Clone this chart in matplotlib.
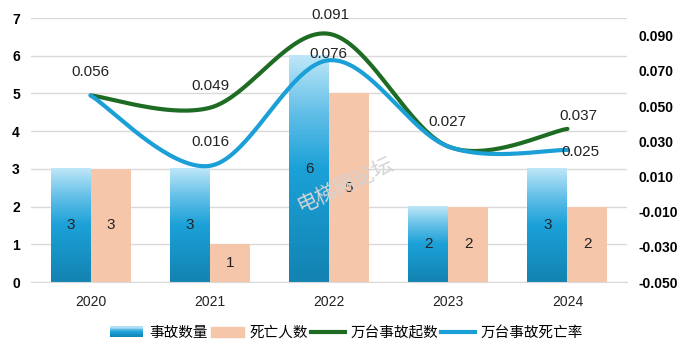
import numpy as np
import matplotlib
matplotlib.use("Agg")
import matplotlib.pyplot as plt
from matplotlib.colors import LinearSegmentedColormap
from matplotlib.patches import Rectangle
from matplotlib.lines import Line2D
from matplotlib.legend_handler import HandlerBase

plt.rcParams['font.family'] = ['Liberation Sans', 'Noto Sans CJK SC', 'DejaVu Sans']

# data
years = ['2020', '2021', '2022', '2023', '2024']
accidents = [3, 3, 6, 2, 3]          # 事故数量
deaths = [3, 1, 5, 2, 2]             # 死亡人数
acc_rate = [0.056, 0.049, 0.091, 0.027, 0.037]    # 万台事故起数
death_rate = [0.056, 0.016, 0.076, 0.027, 0.025]  # 万台事故死亡率

BLUE = '#1a9fd6'
GREEN = '#1e6b23'
SALMON = '#f5c6aa'
grad = LinearSegmentedColormap.from_list(
    'g', [(0, '#1383b2'), (0.5, '#1ba1d8'), (0.75, '#62bfe7'), (1, '#bde6f8')])


def smooth(x, y, n=40):
    # Excel style smoothed line (bezier through points)
    x = np.asarray(x, float)
    y = np.asarray(y, float)
    px = np.concatenate([[x[0]], x, [x[-1]]])
    py = np.concatenate([[y[0]], y, [y[-1]]])
    xs, ys = [], []
    t = np.linspace(0, 1, n)
    for i in range(len(x) - 1):
        p0 = np.array([x[i], y[i]])
        p3 = np.array([x[i + 1], y[i + 1]])
        p1 = p0 + (np.array([px[i + 2], py[i + 2]]) - np.array([px[i], py[i]])) / 6
        p2 = p3 - (np.array([px[i + 3], py[i + 3]]) - np.array([px[i + 1], py[i + 1]])) / 6
        b = ((1 - t) ** 3)[:, None] * p0 + (3 * (1 - t) ** 2 * t)[:, None] * p1 \
            + (3 * (1 - t) * t ** 2)[:, None] * p2 + (t ** 3)[:, None] * p3
        xs.append(b[:, 0])
        ys.append(b[:, 1])
    return np.concatenate(xs), np.concatenate(ys)


class GradHandler(HandlerBase):
    def create_artists(self, legend, orig, xd, yd, w, h, fs, trans):
        arts = []
        n = 12
        for k in range(n):
            c = grad((k + 0.5) / n)
            arts.append(Rectangle((xd, yd + h * k / n), w, h / n + 0.3,
                                  facecolor=c, edgecolor='none', transform=trans))
        return arts


fig = plt.figure(figsize=(6.93, 3.6), dpi=100)
ax = fig.add_axes([31 / 693, 78 / 360, 596 / 693, 264 / 360])
ax2 = ax.twinx()

x = np.arange(len(years))
w = 0.335
bars = ax.bar(x - w / 2, accidents, w, color='none', edgecolor='none', zorder=2)
for r in bars:
    ax.imshow(np.linspace(0, 1, 100)[:, None], cmap=grad, origin='lower',
              extent=[r.get_x(), r.get_x() + r.get_width(), 0, r.get_height()],
              aspect='auto', zorder=2)
ax.bar(x + w / 2, deaths, w, color=SALMON, zorder=2)

for i in range(len(x)):
    ax.text(x[i] - w / 2, accidents[i] / 2, str(accidents[i]), ha='center',
            va='center', fontsize=11, color='#222222', zorder=3)
    ax.text(x[i] + w / 2, deaths[i] / 2, str(deaths[i]), ha='center',
            va='center', fontsize=11, color='#222222', zorder=3)

ax.set_xlim(-0.5, len(years) - 0.5)
ax.set_ylim(0, 7)
ax.set_yticks(range(8))
ax.set_xticks(x)
ax.set_xticklabels(years, fontsize=10, color='#222222')
ax.tick_params(axis='y', length=0, labelsize=10, pad=8)
ax.tick_params(axis='x', length=0, pad=9)
for lab in ax.get_yticklabels():
    lab.set_fontweight('bold')
ax.grid(axis='y', color='#d9d9d9', lw=1)
ax.set_axisbelow(True)
for s in ['top', 'left', 'right']:
    ax.spines[s].set_visible(False)
ax.spines['bottom'].set_color('#d9d9d9')

# lines on secondary axis
gx, gy = smooth(x, acc_rate)
bx, by = smooth(x, death_rate)
ax2.plot(gx, gy, color=GREEN, lw=3, solid_capstyle='round', zorder=3)
ax2.plot(bx, by, color=BLUE, lw=3, solid_capstyle='round', zorder=4)
ax2.set_ylim(-0.05, 0.10)
ax2.set_yticks(np.arange(-0.05, 0.0901, 0.02))
ax2.set_yticklabels(['%.3f' % v for v in np.arange(-0.05, 0.0901, 0.02)],
                    fontweight='bold', fontsize=10)
ax2.tick_params(axis='y', length=0, pad=8)
for s in ax2.spines.values():
    s.set_visible(False)

g_off = [(0, 23), (1, 22), (1, 19), (-1, 24), (11, 13)]
b_off = [(0, 23), (1, 24), (-1, 6), (-1, 24), (13, -2)]
for i in range(len(x)):
    ax2.annotate('%.3f' % acc_rate[i], (x[i], acc_rate[i]), xytext=g_off[i],
                 textcoords='offset pixels', ha='center', va='center',
                 fontsize=11, color='#222222', zorder=5)
    if death_rate[i] != acc_rate[i]:
        ax2.annotate('%.3f' % death_rate[i], (x[i], death_rate[i]), xytext=b_off[i],
                     textcoords='offset pixels', ha='center', va='center',
                     fontsize=11, color='#222222', zorder=5)

# watermark
fig.text(345 / 693, 1 - 185 / 360, '电梯网论坛', fontsize=15, color='#d4d4d4',
         rotation=25, ha='center', va='center', fontweight='light',
         family=['Noto Sans CJK SC'], zorder=10)

handles = [Rectangle((0, 0), 1, 1), Rectangle((0, 0), 1, 1, color=SALMON),
           Line2D([], [], color=GREEN, lw=3), Line2D([], [], color=BLUE, lw=3)]
labels = ['事故数量', '死亡人数', '万台事故起数', '万台事故死亡率']
fig.legend(handles, labels, loc='center', bbox_to_anchor=(0.5, 1 - 333 / 360),
           ncol=4, frameon=False, handlelength=2.3, handleheight=0.7,
           handletextpad=0.4, columnspacing=0.2,
           handler_map={handles[0]: GradHandler()},
           prop={'family': ['Noto Sans CJK SC'], 'size': 10.5})

fig.savefig('out.png', dpi=100)
